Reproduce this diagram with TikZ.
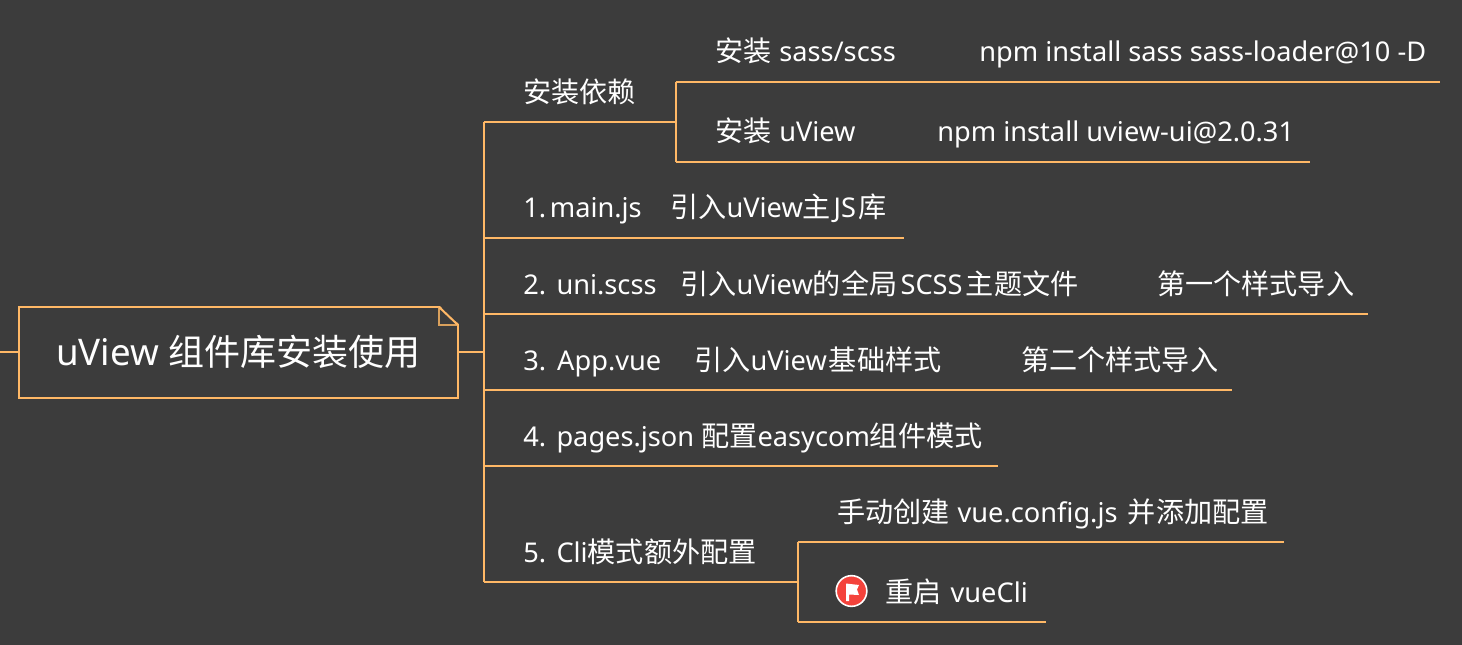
\documentclass[tikz,border=0pt]{standalone}
\usepackage{fontspec}
\setmainfont{Noto Sans}
\newfontfamily\cjk{Noto Sans CJK SC}
\frenchspacing
\definecolor{mapbg}{HTML}{3C3C3C}
\definecolor{maporange}{HTML}{FFB866}
\definecolor{folddark}{HTML}{D9A05C}
\definecolor{flagred}{HTML}{F4433C}
\tikzset{
    branch/.style={draw=maporange, line width=1.5pt},
    rootbox/.style={draw=maporange, line width=1.5pt, minimum width=329.25pt, minimum height=68.25pt, inner sep=0pt, text=white, font=\fontsize{27.5}{32}\selectfont},
    label/.style={anchor=base west, inner sep=0pt, text=white, font=\fontsize{20.4}{24}\selectfont}
}
\newcommand{\zh}[1]{{\cjk\fontsize{21.1}{24}\selectfont #1}}
\begin{document}
\begin{tikzpicture}[x=0.75pt, y=-0.75pt]
    % Background
    \fill[mapbg] (0,0) rectangle (1462,645);
    \useasboundingbox (0,0) rectangle (1462,645);

    % Root topic
    \node[rootbox] (root) at (238.5,352) {uView {\cjk\fontsize{27}{32}\selectfont 组件库安装使用}};
    % Folded corner
    \fill[mapbg] (439,305) -- (460,305) -- (460,325) -- cycle;
    \draw[folddark, line width=1.2pt] (439,307) -- (439,325) -- (458,325);
    \draw[branch, line cap=round] (439,307) -- (458,325);

    % Free ends of the connectors
    \coordinate (leftend) at (0,352);
    \coordinate (spine) at (484,352);
    \coordinate (spinetop) at (484,122);
    \coordinate (spinebot) at (484,582);

    \draw[branch] (leftend) -- (root.west |- leftend);
    \draw[branch] (root.east |- spine) -- (spine);
    \draw[branch] (spinetop) -- (spinebot);

    % Underlines of the first level
    \foreach \name/\y/\xend in {dep/122/676, one/238/904, two/314/1368, three/390/1232, four/466/998, five/582/798} {
        \coordinate (\name) at (\xend,\y);
        \draw[branch] (484,\y) -- (\name);
    }

    % Underlines of the second level
    \foreach \name/\from/\y/\xend in {sass/dep/82/1440, uview/dep/162/1310, config/five/542/1284, restart/five/622/1046} {
        \coordinate (\name) at (\xend,\y);
        \draw[branch] (\from |- \name) -- (\name);
    }
    \draw[branch] (sass -| dep) -- (uview -| dep);
    \draw[branch] (config -| five) -- (restart -| five);

    % Labels of the first level
    \node[label] (deptext) at (523,103) {\zh{安装依赖}};
    \node[label] (onetext) at (523,218) {1.\kern-2.5pt{} main.js};
    \node[label] (onenote) at (670,218) {\zh{引入}uView\zh{主}\kern2pt JS\kern2pt\zh{库}};
    \node[label] (twotext) at (523,294) {2.\kern2.5pt{} uni.scss};
    \node[label] (twonote) at (680,294) {\zh{引入}uView\zh{的全局}\kern2.5pt SCSS\kern2.5pt\zh{主题文件}};
    \node[label] (twoimport) at (1157,294) {\zh{第一个样式导入}};
    \node[label] (threetext) at (523,370) {3.\kern3pt{} App.vue};
    \node[label] (threenote) at (694,370) {\zh{引入}uView\kern1.5pt\zh{基础样式}};
    \node[label] (threeimport) at (1021,370) {\zh{第二个样式导入}};
    \node[label] (fourtext) at (523,446) {4.\kern2.5pt{} pages.json \zh{配置}easycom\zh{组件模式}};
    \node[label] (fivetext) at (523,562) {5.\kern2.5pt{} Cli\zh{模式额外配置}};

    % Labels of the second level
    \node[label] (sasstext) at (715,62) {\zh{安装}\kern.5pt{} sass/scss};
    \node[label] (sasscmd) at (979,62) {npm install sass sass-loader@10 -D};
    \node[label] (uviewtext) at (715,142) {\zh{安装}\kern.5pt{} uView};
    \node[label] (uviewcmd) at (937,142) {npm install uview-ui@2.0.31};
    \node[label] (configtext) at (837,522) {\zh{手动创建}\kern.5pt{} vue.config.js\kern2.5pt{} \zh{并添加配置}};
    \node[label] (restarttext) at (885,602) {\zh{重启}\kern1.5pt{} vueCli};

    % Flag icon
    \node[circle, draw=white, fill=flagred, line width=1.2pt, minimum size=23pt, inner sep=0pt] (flagicon) at (851.5,591) {};
    \fill[white] (846,583.5) -- (859,585) -- (857,589.5) -- (859,595) -- (849,594.5) -- (849,601) -- (846,601) -- cycle;
\end{tikzpicture}
\end{document}
